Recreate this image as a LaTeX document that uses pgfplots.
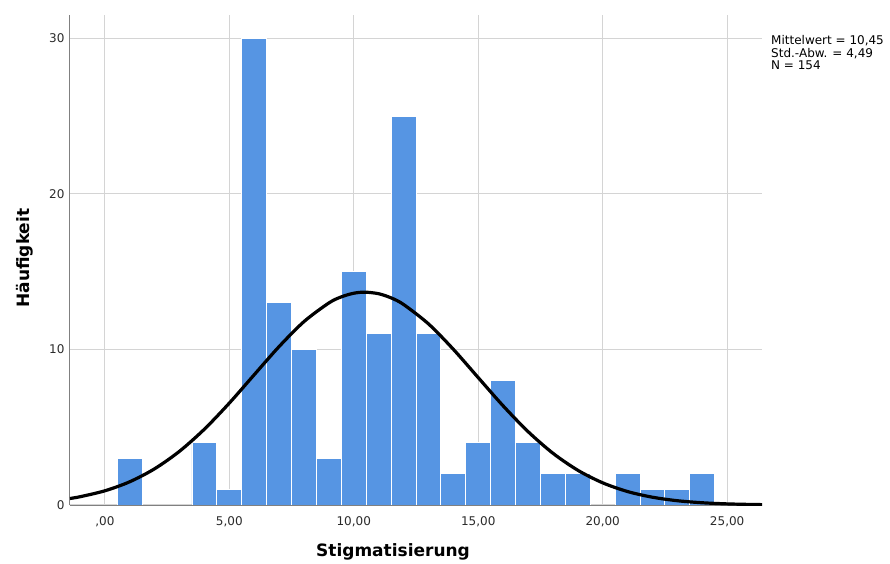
\documentclass[border=0pt]{standalone}
\usepackage{pgfplots}
\pgfplotsset{compat=1.18}
\usepackage{fontspec}
\setmainfont{DejaVu Sans}
\definecolor{barblue}{HTML}{5695E3}
\definecolor{gridgray}{HTML}{D4D4D4}
\definecolor{axgray}{HTML}{808080}
\definecolor{txt}{HTML}{2B2B2B}
\begin{document}
\begin{tikzpicture}
\path (-70pt,-58pt) rectangle (820pt,505pt);
\begin{axis}[
  scale only axis,
  width=692pt, height=490pt,
  at={(0pt,0pt)}, anchor=south west,
  xmin=-1.4, xmax=26.4,
  ymin=0, ymax=31.5,
  axis lines=left,
  axis line style={-, draw=axgray, line width=1pt},
  xtick={0,5,10,15,20,25},
  xticklabels={{,00},{5,00},{10,00},{15,00},{20,00},{25,00}},
  ytick={0,10,20,30},
  yticklabels={0,10,20,30},
  major tick length=0pt,
  grid=major,
  major grid style={draw=gridgray, line width=1.1pt},
  tick label style={font=\fontsize{12}{14}\selectfont, text=txt},
  xticklabel style={yshift=-8pt},
  yticklabel style={xshift=-2pt},
  /pgf/number format/assume math mode=true,
  xlabel={Stigmatisierung},
  ylabel={Häufigkeit},
  xlabel style={font=\bfseries\fontsize{17}{20}\selectfont, at={(axis description cs:0.4668,0)}, anchor=center, yshift=-47pt},
  ylabel style={font=\bfseries\fontsize{17}{20}\selectfont, at={(axis description cs:-0.065,0.504)}, anchor=center, rotate=0},
  clip=true,
]
\addplot[ybar, bar width=1, fill=barblue, draw=white, line width=0.9pt] coordinates {
(1,3) (4,4) (5,1) (6,30) (7,13) (8,10) (9,3) (10,15) (11,11) (12,25) (13,11)
(14,2) (15,4) (16,8) (17,4) (18,2) (19,2) (21,2) (22,1) (23,1) (24,2)
};
\draw[axgray, line width=1pt] (rel axis cs:0,0) -- (rel axis cs:1,0);
\addplot[black, line width=3.2pt, smooth] coordinates {
(-1.4,0.420) (-1,0.530) (0,0.912) (1,1.494) (2,2.329) (3,3.455) (4,4.876)
(5,6.550) (6,8.374) (7,10.185) (8,11.790) (9,12.988) (9.5,13.380) (10,13.614)
(10.45,13.683) (11,13.581) (11.5,13.314) (12,12.891) (13,11.645) (14,10.010)
(15,8.188) (16,6.374) (17,4.721) (18,3.328) (19,2.233) (20,1.425) (21,0.865)
(22,0.500) (23,0.275) (24,0.144) (25,0.0717) (26,0.0340) (26.4,0.0249)
};
\end{axis}
\node[anchor=north west, inner sep=0pt, align=left, font=\fontsize{12}{12.8}\selectfont, text=black] at (701pt,470pt) {Mittelwert = 10,45\\Std.-Abw. = 4,49\\N = 154};
\end{tikzpicture}
\end{document}
